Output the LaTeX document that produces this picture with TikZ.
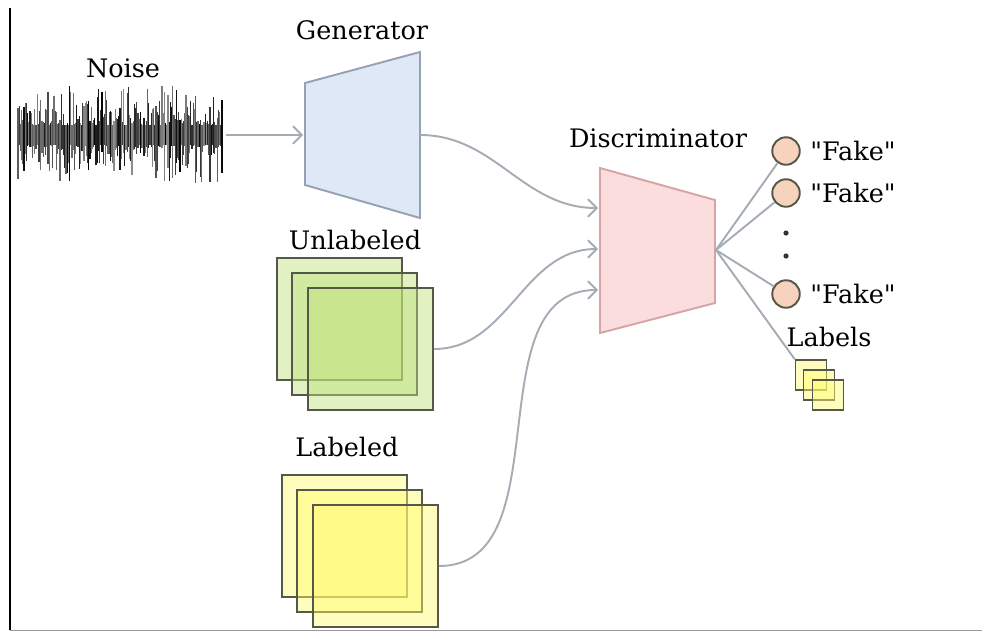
\documentclass[tikz,border=0pt]{standalone}
\usepackage{fontspec}
\setmainfont{DejaVu Serif}[Ligatures=TeXOff]
\usetikzlibrary{positioning,arrows.meta}

\definecolor{linkgray}{RGB}{165,172,180}
\definecolor{genfill}{RGB}{223,232,246}
\definecolor{gendraw}{RGB}{150,162,180}
\definecolor{discfill}{RGB}{251,221,222}
\definecolor{discdraw}{RGB}{214,164,166}
\definecolor{outfill}{RGB}{247,211,189}
\definecolor{sheetgray}{RGB}{85,88,72}
\definecolor{greensheet}{RGB}{190,224,120}
\definecolor{yellowsheet}{RGB}{255,250,110}

\begin{document}
\begin{tikzpicture}[x=0.02cm,y=-0.02cm,
	font=\fontsize{14.5}{17}\selectfont,
	link/.style = {draw=linkgray, line width=1.1pt},
	flow/.style = {link, -{Straight Barb[length=5pt,width=10pt]}},
	sheet/.style = {draw=sheetgray, line width=1.1pt, inner sep=0pt,
		minimum width=2.5cm, minimum height=2.44cm, fill opacity=0.45, draw opacity=1},
	small sheet/.style = {sheet, line width=0.9pt, minimum width=0.62cm, minimum height=0.6cm,
		fill=yellowsheet},
	out node/.style = {circle, draw=sheetgray, fill=outfill, line width=1.1pt,
		inner sep=0pt, minimum size=0.55cm}]
	\useasboundingbox (0,0) rectangle (982,632);
	\draw[line width=0.8pt] (10,8) -- (10,630);
	\draw[black!40, line width=0.5pt] (10,630) -- (982,630);

	% noise
	\node (noise) at (120,135) [minimum width=4.08cm, minimum height=2cm] {};
	\pgfmathsetseed{11}
	\foreach \x in {18,19.2,...,222} {
		\pgfmathsetmacro\r{rnd}
		\pgfmathsetmacro\s{rnd}
		\pgfmathsetmacro\a{135-(10+40*\r*\r)}
		\pgfmathsetmacro\b{135+(10+38*\s*\s)}
		\pgfmathsetmacro\g{int(45+55*rnd)}
		\draw[black!\g, line width=0.75pt] (\x,\a) -- (\x,\b);
	}
	\node at (123,68) {Noise};

	% generator
	\draw[fill=genfill, draw=gendraw, line width=1.1pt]
		(305,83) -- (420,52) -- (420,218) -- (305,185) -- cycle;
	\coordinate (gen in) at (303,135);
	\coordinate (gen out) at (420,135);
	\node at (362,30) {Generator};

	% discriminator
	\draw[fill=discfill, draw=discdraw, line width=1.1pt]
		(600,168) -- (715,200) -- (715,303) -- (600,333) -- cycle;
	\coordinate (disc in1) at (598,208);
	\coordinate (disc in2) at (598,249);
	\coordinate (disc in3) at (598,290);
	\coordinate (disc out) at (716,250);
	\node at (658,138) {Discriminator};

	% real data
	\node[sheet, fill=greensheet] (u1) at (339.5,319) {};
	\node[sheet, fill=greensheet] (u2) at (354.5,334) {};
	\node[sheet, fill=greensheet] (u3) at (370.5,349) {};
	\node at (355,240) {Unlabeled};
	\node[sheet, fill=yellowsheet] (l1) at (344.5,536) {};
	\node[sheet, fill=yellowsheet] (l2) at (359.5,551) {};
	\node[sheet, fill=yellowsheet] (l3) at (375.5,566) {};
	\node at (347,447) {Labeled};

	% outputs
	\node[out node] (f1) at (786,151) {};
	\node[out node] (f2) at (786,193) {};
	\node[out node] (f3) at (786,294) {};
	\node[right=2pt of f1] {"Fake"};
	\node[right=2pt of f2] {"Fake"};
	\node[right=2pt of f3] {"Fake"};
	\fill[black!80] (786,233) circle (2.6) (786,256) circle (2.6);
	\node[small sheet] (s1) at (811,375) {};
	\node[small sheet] (s2) at (819,385) {};
	\node[small sheet] (s3) at (828,395) {};
	\node at (829,337) {Labels};

	\draw[flow, shorten <=2pt] (noise.east) -- (gen in);
	\draw[flow] (gen out) to[out=0,in=180] (disc in1);
	\draw[flow] (u3.east) to[out=0,in=180] (disc in2);
	\draw[flow] (l3.east) to[out=0,in=180] (disc in3);
	\path[link]
		(disc out) edge (f1)
		edge (f2)
		edge (f3)
		edge (s1.north west);
\end{tikzpicture}
\end{document}
